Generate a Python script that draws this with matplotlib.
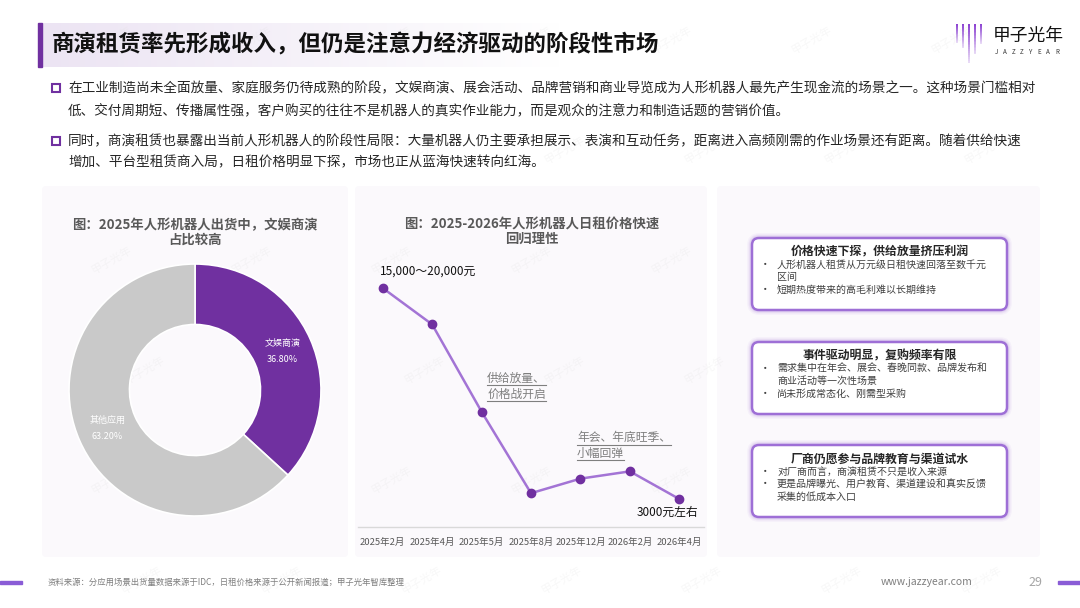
import numpy as np
import matplotlib
matplotlib.use("Agg")
import matplotlib.pyplot as plt
from matplotlib.patches import FancyBboxPatch, Rectangle

plt.rcParams['font.family'] = ['Noto Sans CJK SC', 'DejaVu Sans']

# ---- data ----
title = "商演租赁率先形成收入，但仍是注意力经济驱动的阶段性市场"
bullets = [
    ["在工业制造尚未全面放量、家庭服务仍待成熟的阶段，文娱商演、展会活动、品牌营销和商业导览成为人形机器人最先产生现金流的场景之一。这种场景门槛相对",
     "低、交付周期短、传播属性强，客户购买的往往不是机器人的真实作业能力，而是观众的注意力和制造话题的营销价值。"],
    ["同时，商演租赁也暴露出当前人形机器人的阶段性局限：大量机器人仍主要承担展示、表演和互动任务，距离进入高频刚需的作业场景还有距离。随着供给快速",
     "增加、平台型租赁商入局，日租价格明显下探，市场也正从蓝海快速转向红海。"],
]

donut_title = "图：2025年人形机器人出货中，文娱商演\n占比较高"
donut_labels = ["文娱商演", "其他应用"]
donut_values = [36.8, 63.2]
donut_colors = ['#7030A0', '#C9C9C9']

line_title = "图：2025-2026年人形机器人日租价格快速\n回归理性"
months = ["2025年2月", "2025年4月", "2025年5月", "2025年8月", "2025年12月", "2026年2月", "2026年4月"]
prices = [17500, 15000, 9000, 3400, 4400, 4900, 3000]

boxes = [
    ("价格快速下探，供给放量挤压利润",
     [["人形机器人租赁从万元级日租快速回落至数千元", "区间"], ["短期热度带来的高毛利难以长期维持"]]),
    ("事件驱动明显，复购频率有限",
     [["需求集中在年会、展会、春晚同款、品牌发布和", "商业活动等一次性场景"], ["尚未形成常态化、刚需型采购"]]),
    ("厂商仍愿参与品牌教育与渠道试水",
     [["对厂商而言，商演租赁不只是收入来源"], ["更是品牌曝光、用户教育、渠道建设和真实反馈", "采集的低成本入口"]]),
]

source = "资料来源：分应用场景出货量数据来源于IDC，日租价格来源于公开新闻报道；甲子光年智库整理"

W, H = 1080, 608
fig = plt.figure(figsize=(W / 100, H / 100), dpi=100)
fig.patch.set_facecolor('white')

# background layer in pixel coordinates
bg = fig.add_axes([0, 0, 1, 1])
bg.set_xlim(0, W)
bg.set_ylim(H, 0)
bg.axis('off')
bg.set_zorder(0)

# header gradient + purple bar
grad = np.linspace(0, 1, 256).reshape(1, -1)
cmap = matplotlib.colors.LinearSegmentedColormap.from_list('hdr', ['#ECE4F3', '#FFFFFF'])
bg.imshow(grad, cmap=cmap, extent=(41, 560, 67, 23), aspect='auto', zorder=1)
bg.add_patch(Rectangle((38, 23), 3.5, 44, color='#7030A0', zorder=2))
bg.text(52, 45, title, fontsize=16.2, fontweight='bold', color='#111111', va='center', zorder=3)

# logo
logo_x = [957, 963, 969, 975, 981]
logo_bot = [43, 48, 63, 54, 44]
for lx, lb in zip(logo_x, logo_bot):
    n = 20
    ys = np.linspace(24, lb, n + 1)
    for i in range(n):
        bg.plot([lx, lx], [ys[i], ys[i + 1]], color='#8A3FD1', lw=1.4,
                alpha=1 - 0.85 * i / n, solid_capstyle='butt', zorder=3)
bg.text(993, 36, "甲子光年", fontsize=12.8, color='#111111', va='center', zorder=3)
for i, ch in enumerate("JAZZYEAR"):
    bg.text(996 + i * 8.7, 52, ch, fontsize=4.5, color='#333333', ha='center', va='center', zorder=3)

# bullets
by = [(88, 110), (141, 162)]
for (lines, ys) in zip(bullets, by):
    bg.add_patch(Rectangle((52, ys[0] - 4), 8, 8, fill=False, edgecolor='#7030A0', lw=1.5, zorder=3))
    for t, y in zip(lines, ys):
        bg.text(68, y, t, fontsize=9.8, color='#262626', va='center', zorder=3)

# panels
for x0, x1 in [(42, 348), (355, 707), (717, 1040)]:
    bg.add_patch(FancyBboxPatch((x0, 186), x1 - x0, 371, boxstyle="round,pad=0,rounding_size=4",
                                facecolor='#FBF9FC', edgecolor='none', zorder=1))

# watermarks
for wy in [40, 150, 260, 370, 480, 580]:
    for wx in np.arange(100, 1080, 140) + (wy % 220) * 0.3:
        bg.text(wx, wy, "甲子光年", fontsize=8, color='#DDDDDD', alpha=0.22, rotation=30,
                ha='center', va='center', zorder=1.5)

# donut
bg.text(195, 232, donut_title, fontsize=9.6, fontweight='bold', color='#595959',
        ha='center', va='center', linespacing=1.05, zorder=3)
dax = fig.add_axes([69 / W, (H - 516) / H, 252 / W, 252 / H])
dax.set_zorder(2)
wedges, _ = dax.pie(donut_values, colors=donut_colors, startangle=90, counterclock=False,
                    radius=1, wedgeprops=dict(width=0.48, edgecolor='white', linewidth=1.2))
dax.set_xlim(-1, 1)
dax.set_ylim(-1, 1)
for w, lab, v in zip(wedges, donut_labels, donut_values):
    ang = np.deg2rad((w.theta1 + w.theta2) / 2)
    r = 0.76
    dax.text(r * np.cos(ang), r * np.sin(ang), f"{lab}\n\n{v:.2f}%", fontsize=6.5, color='white',
             ha='center', va='center', linespacing=0.9)

# line chart
bg.text(532, 232, line_title, fontsize=9.6, fontweight='bold', color='#595959',
        ha='center', va='center', linespacing=1.05, zorder=3)
lax = fig.add_axes([358 / W, (H - 527) / H, (704 - 358) / W, (527 - 270) / H])
lax.set_zorder(2)
lax.patch.set_alpha(0)
xs = np.arange(len(months))
lax.plot(xs, prices, color='#A374D5', lw=1.8, zorder=2)
lax.scatter(xs, prices, s=36, color='#7030A0', zorder=3)
lax.set_xlim(-0.5, len(months) - 0.5)
lax.set_ylim(1076, 18740)
lax.set_yticks([])
lax.set_xticks(xs)
lax.set_xticklabels(months, fontsize=6.8, color='#595959')
lax.tick_params(axis='x', length=0, pad=8)
for s in ['top', 'right', 'left']:
    lax.spines[s].set_visible(False)
lax.spines['bottom'].set_color('#D9D9D9')
lax.spines['bottom'].set_linewidth(1)

lax.annotate("15,000～20,000元", xy=(0, prices[0]), xytext=(-2, 12), textcoords='offset points',
             fontsize=8.5, color='#111111', ha='left', va='center')
lax.annotate("3000元左右", xy=(6, prices[6]), xytext=(14, -9.5), textcoords='offset points',
             fontsize=8.5, color='#111111', ha='right', va='center')
notes = []
for (i, lines, dx, dy0) in [(2, ["供给放量、", "价格战开启"], 4, 24),
                            (4, ["年会、年底旺季、", "小幅回弹"], -2.5, 29.5)]:
    for k, t in enumerate(lines):
        notes.append(lax.annotate(t, xy=(i, prices[i]), xytext=(dx, dy0 - k * 11.2),
                                  textcoords='offset points', fontsize=8.5, color='#7F7F7F',
                                  ha='left', va='center'))

# right-side boxes
box_tops = [238, 342, 445]
for (bt, (hdr, items)) in zip(box_tops, boxes):
    x0, x1, h = 752, 1007, 72
    for lw, a in [(7, 0.08), (5, 0.12), (3.5, 0.18)]:
        bg.add_patch(FancyBboxPatch((x0, bt), x1 - x0, h, boxstyle="round,pad=0,rounding_size=7",
                                    facecolor='none', edgecolor='#B48FE0', lw=lw, alpha=a, zorder=3))
    bg.add_patch(FancyBboxPatch((x0, bt), x1 - x0, h, boxstyle="round,pad=0,rounding_size=7",
                                facecolor='white', edgecolor='#9E6FD6', lw=1.8, zorder=3))
    bg.text((x0 + x1) / 2, bt + 14, hdr, fontsize=8.6, fontweight='bold', color='#262626',
            ha='center', va='center', zorder=4)
    y = bt + 27
    for item in items:
        bg.text(765, y, "•", fontsize=7.5, color='#404040', ha='center', va='center', zorder=4)
        for ln in item:
            bg.text(777, y, ln, fontsize=7.2, color='#404040', va='center', zorder=4)
            y += 12.3

# footer
bg.add_patch(Rectangle((0, 580.5), 22, 3, color='#8A5CD6', zorder=3))
bg.add_patch(Rectangle((1058, 580.5), 22, 3, color='#8A5CD6', zorder=3))
bg.text(48, 582, source, fontsize=6, color='#7F7F7F', va='center', zorder=3)
bg.text(972, 582, "www.jazzyear.com", fontsize=7.5, color='#7F7F7F', ha='right', va='center', zorder=3)
bg.text(1035, 582, "29", fontsize=9, color='#A6A6A6', ha='center', va='center', zorder=3)

# underline the callout notes
fig.canvas.draw()
rend = fig.canvas.get_renderer()
inv = bg.transData.inverted()
for t in notes:
    bb = t.get_window_extent(rend)
    (ax0, ay0), (ax1, ay1) = inv.transform([[bb.x0, bb.y0], [bb.x1, bb.y1]])
    bg.plot([ax0, ax1], [ay0 + 0.5, ay0 + 0.5], color='#7F7F7F', lw=0.8, zorder=5)

fig.savefig("out.png", dpi=100)
